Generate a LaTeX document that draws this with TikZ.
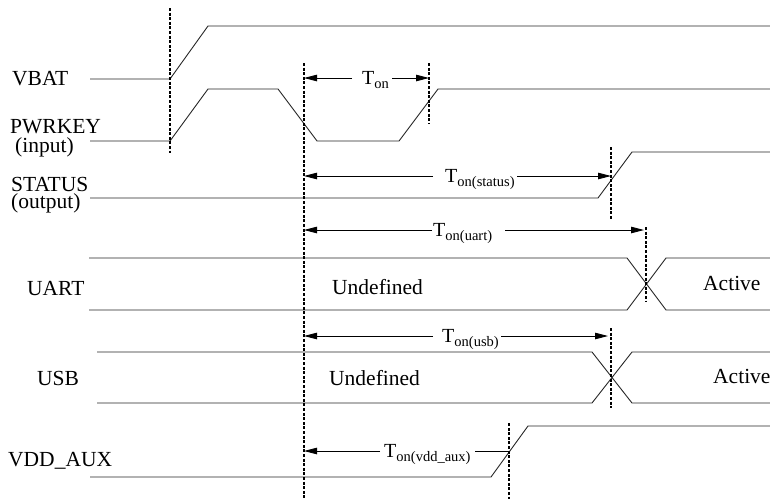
\documentclass[tikz,border=0pt]{standalone}
\usepackage{fontspec}
\setmainfont{Liberation Serif}
\usetikzlibrary{arrows.meta}
\newcommand\tsub[1]{{\fontsize{20}{20}\selectfont T}\raisebox{-4pt}{\fontsize{14.5}{14.5}\selectfont #1}}
\begin{document}
\begin{tikzpicture}[x=1pt,y=-1pt,
  sig/.style={line width=0.9pt, black!85, line join=miter},
  guide/.style={line width=1.1pt, dash pattern=on 3pt off 1.6pt},
  dimline/.style={line width=0.9pt},
  tipped/.style={-{Triangle[length=13pt,width=6.5pt]}},
  lbl/.style={font=\fontsize{21.5}{21.5}\selectfont, inner sep=0pt, anchor=base west},
  twoline/.style={font=\fontsize{21.5}{18}\selectfont, inner sep=0pt, anchor=base west, align=left},
  tlbl/.style={inner sep=0pt, anchor=base west},
  ]
\useasboundingbox (0,0) rectangle (770,499);

% signal names
\node[lbl] (vbat) at (12,85) {VBAT};
\node[twoline] (pwrkey) at (10,152) {PWRKEY\\[1pt]\hspace*{5pt}(input)};
\node[twoline] (status) at (11,208) {STATUS\\[-1pt](output)};
\node[lbl] (uart) at (27,295) {UART};
\node[lbl] (usb) at (37,385) {USB};
\node[lbl] (vddaux) at (8,466) {VDD\_AUX};

% state texts
\node[lbl] (undefA) at (332,294) {Undefined};
\node[lbl] (activeA) at (703,290) {Active};
\node[lbl] (undefB) at (329,385) {Undefined};
\node[lbl] (activeB) at (713,383) {Active};

% waveforms
\draw[sig] (90,79) -- (170,79) -- (208,26) -- (770,26);
\draw[sig] (90,141) -- (170,141) -- (208,89) -- (278,89) -- (317,141) -- (399,141) -- (438,89) -- (770,89);
\draw[sig] (90,198) -- (598,198) -- (632,152) -- (770,152);
\draw[sig] (89,258) -- (627,258) -- (666,310) -- (770,310);
\draw[sig] (89,310) -- (627,310) -- (666,258) -- (770,258);
\draw[sig] (97,352) -- (592,352) -- (632,403) -- (770,403);
\draw[sig] (97,403) -- (592,403) -- (632,352) -- (770,352);
\draw[sig] (90,477) -- (491,477) -- (528,426) -- (770,426);

% guide lines
\coordinate (d1t) at (170,8);   \coordinate (d1b) at (170,153);
\coordinate (d2t) at (304,63);  \coordinate (d2b) at (304,499);
\coordinate (d3t) at (429,63);  \coordinate (d3b) at (429,123);
\coordinate (d4t) at (611,147); \coordinate (d4b) at (611,220);
\coordinate (d5t) at (646,227); \coordinate (d5b) at (646,302);
\coordinate (d6t) at (611,328); \coordinate (d6b) at (611,408);
\coordinate (d7t) at (509,423); \coordinate (d7b) at (509,499);
\draw[guide] (d1t) -- (d1b);
\draw[guide] (d2t) -- (d2b);
\draw[guide] (d3t) -- (d3b);
\draw[guide] (d4t) -- (d4b);
\draw[guide] (d5t) -- (d5b);
\draw[guide] (d6t) -- (d6b);
\draw[guide] (d7t) -- (d7b);

% T_on
\node[tlbl] (ton) at (362,84.6) {\tsub{on}};
\coordinate (ton-a) at (304,78); \coordinate (ton-b) at (352,78);
\coordinate (ton-c) at (392,78); \coordinate (ton-d) at (429,78);
\draw[dimline,tipped] (ton-b) -- (ton-a);
\draw[dimline,tipped] (ton-c) -- (ton-d);

% T_on(status)
\node[tlbl] (tst) at (445,182.6) {\tsub{on(status)}};
\coordinate (tst-a) at (304,176); \coordinate (tst-b) at (433,176);
\coordinate (tst-c) at (517,176); \coordinate (tst-d) at (611,176);
\draw[dimline,tipped] (tst-b) -- (tst-a);
\draw[dimline,tipped] (tst-c) -- (tst-d);

% T_on(uart)
\node[tlbl] (tua) at (433,236.6) {\tsub{on(uart)}};
\coordinate (tua-a) at (304,230); \coordinate (tua-b) at (432,230);
\coordinate (tua-c) at (505,230); \coordinate (tua-d) at (644,230);
\draw[dimline,tipped] (tua-b) -- (tua-a);
\draw[dimline,tipped] (tua-c) -- (tua-d);

% T_on(usb)
\node[tlbl] (tus) at (442,342.6) {\tsub{on(usb)}};
\coordinate (tus-a) at (304,336); \coordinate (tus-b) at (433,336);
\coordinate (tus-c) at (501,336); \coordinate (tus-d) at (608,336);
\draw[dimline,tipped] (tus-b) -- (tus-a);
\draw[dimline,tipped] (tus-c) -- (tus-d);

% T_on(vdd_aux)
\node[tlbl] (tvd) at (384,457.6) {\tsub{on(vdd\_aux)}};
\coordinate (tvd-a) at (304,451); \coordinate (tvd-b) at (380,451);
\coordinate (tvd-c) at (475,451); \coordinate (tvd-d) at (509,451);
\draw[dimline,tipped] (tvd-b) -- (tvd-a);
\draw[dimline] (tvd-c) -- (tvd-d);
\end{tikzpicture}
\end{document}
